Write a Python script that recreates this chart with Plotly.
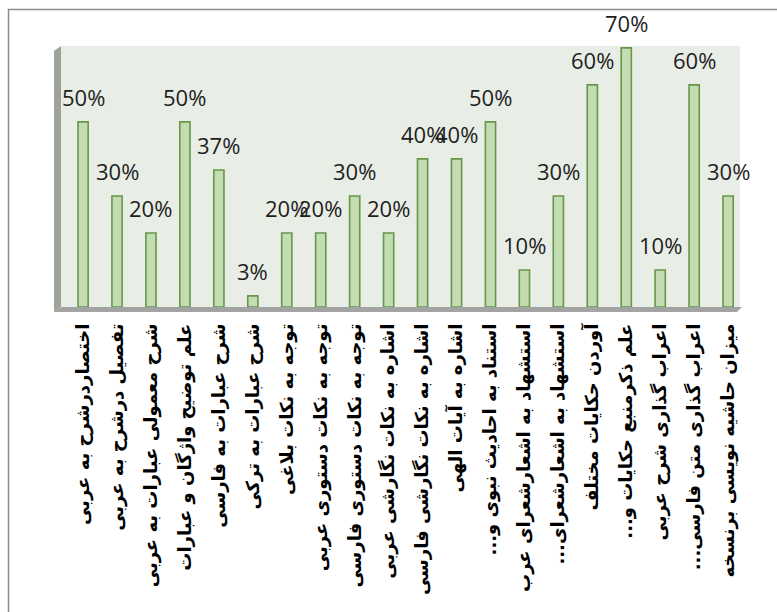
import plotly.graph_objects as go

categories = [
    "اختصاردرشرح به عربی",
    "تفصیل درشرح به عربی",
    "شرح معمولی عبارات به عربی",
    "علم توضیح واژگان و عبارات",
    "شرح عبارات به فارسی",
    "شرح عبارات به ترکی",
    "توجه به نکات بلاغی",
    "توجه به نکات دستوری عربی",
    "توجه به نکات دستوری فارسی",
    "اشاره به نکات نگارشی عربی",
    "اشاره به نکات نگارشی فارسی",
    "اشاره به آیات الهی",
    "استناد به احادیث نبوی و...",
    "استشهاد به اشعارشعرای عرب",
    "استشهاد به اشعارشعرای...",
    "آوردن حکایات مختلف",
    "علم ذکرمنبع حکایات و...",
    "اعراب گذاری شرح عربی",
    "اعراب گذاری متن فارسی...",
    "میزان حاشیه نویسی برنسخه",
]
values = [50, 30, 20, 50, 37, 3, 20, 20, 30, 20, 40, 40, 50, 10, 30, 60, 70, 10, 60, 30]
value_labels = [f"{v}%" for v in values]

W, H = 777, 612
L, R, T, B = 61, 37, 46, 305
PW, PH = W - L - R, H - T - B


def px(x):
    return (x - L) / PW


def py(y):
    return (H - B - y) / PH


xs = list(range(len(categories)))
# right-to-left marks keep trailing dots at the end of the Persian text
tick_text = ["\u200f" + c + "\u200f" for c in categories]

fig = go.Figure()
fig.add_trace(go.Bar(
    x=xs, y=values, width=0.3,
    marker=dict(color="#C4DCB1", line=dict(color="#66974A", width=1.6)),
    hoverinfo="skip",
))

for x, v, t in zip(xs, values, value_labels):
    fig.add_annotation(x=x, y=v, text=t, showarrow=False, yshift=25,
                       xanchor="center", yanchor="middle",
                       font=dict(family="Open Sans", size=22, color="#1E1E1E"))

shapes = [
    dict(type="path", xref="paper", yref="paper",
         path=f"M {px(54)} {py(312)} L {px(54)} {py(51)} L {px(61)} {py(46)} L {px(61)} {py(307)} Z",
         fillcolor="#9DA29B", line=dict(width=0), layer="above"),
    dict(type="path", xref="paper", yref="paper",
         path=f"M {px(54)} {py(312)} L {px(737)} {py(312)} L {px(742)} {py(307)} L {px(61)} {py(307)} Z",
         fillcolor="#A3A3A3", line=dict(width=0), layer="below"),
    dict(type="path", xref="paper", yref="paper",
         path=f"M {px(8.5)} {py(640)} L {px(8.5)} {py(9.5)} L {px(800)} {py(9.5)}",
         line=dict(color="#8C8C8C", width=1.5)),
]

fig.update_layout(
    width=W, height=H,
    margin=dict(l=L, r=R, t=T, b=B, pad=0, autoexpand=False),
    paper_bgcolor="white",
    plot_bgcolor="#E8EDE5",
    showlegend=False,
    shapes=shapes,
    xaxis=dict(
        range=[-0.65, 19.35], automargin=False,
        tickmode="array", tickvals=xs, ticktext=tick_text,
        tickangle=-90, ticks="", showgrid=False, zeroline=False, showline=False,
        ticklabelstandoff=12,
        tickfont=dict(family="DejaVu Sans", size=18, color="black", weight="bold"),
    ),
    yaxis=dict(range=[0, 70.5], visible=False, showgrid=False, zeroline=False),
)

fig.write_html("out.html")
